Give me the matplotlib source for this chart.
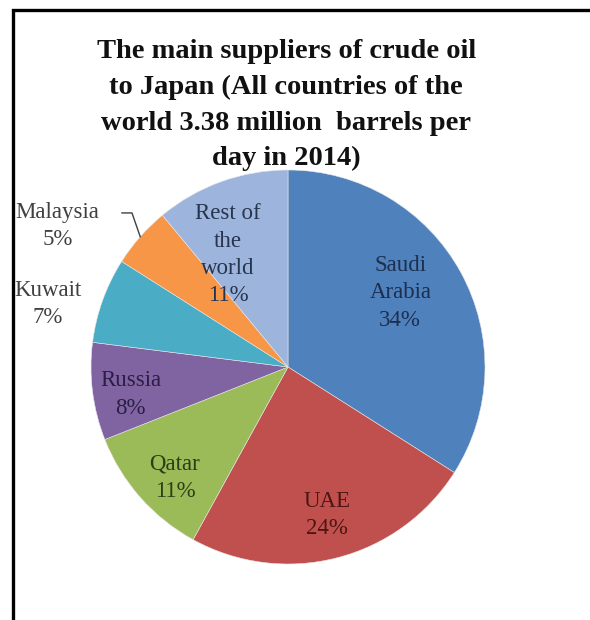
import matplotlib.pyplot as plt
import matplotlib.patches as mpatches
import numpy as np

countries = ["Saudi\nArabia", "UAE", "Qatar", "Russia", "Kuwait", "Malaysia", "Rest of\nthe\nworld"]
shares = [34, 24, 11, 8, 7, 5, 11]

colors = ["#4F81BD", "#C0504D", "#9BBB59", "#8064A2", "#4BACC6", "#F79646", "#9DB5DC"]
label_colors = ["#1C2F4F", "#4E1513", "#2A3F14", "#2B1E45", "#404040", "#404040", "#27344E"]
# label centres in pie units (radius = 1)
label_pos = [(0.57, 0.376), (0.198, -0.75), (-0.574, -0.563), (-0.80, -0.14),
             (-1.22, 0.32), (-1.17, 0.716), (-0.305, 0.57)]

plt.rcParams['font.family'] = ['Liberation Serif', 'DejaVu Serif']

fig = plt.figure(figsize=(5.9, 6.2), dpi=100)
ax = fig.add_axes([0, 0, 1, 1])

wedges, _ = ax.pie(shares, colors=colors, startangle=90, counterclock=False,
                   radius=1, wedgeprops=dict(linewidth=0.4, edgecolor="#e6e6e6"))

ax.set_xlim(-288 / 197, (590 - 288) / 197)
ax.set_ylim((367 - 620) / 197, 367 / 197)
ax.set_aspect('auto')
ax.axis('off')

for name, val, (x, y), c in zip(countries, shares, label_pos, label_colors):
    ax.text(x, y, f"{name}\n{val}%", ha='center', va='center', fontsize=16.5,
            color=c, linespacing=1.4)

# leader line for Malaysia
w = wedges[5]
mid = np.deg2rad((w.theta1 + w.theta2) / 2)
ax.plot([-0.843, -0.792, np.cos(mid)], [0.782, 0.782, np.sin(mid)],
        color="#404040", lw=1)

fig.text(0.485, 0.830,
         "The main suppliers of crude oil\nto Japan (All countries of the\n"
         "world 3.38 million  barrels per\nday in 2014)",
         ha='center', va='center', fontsize=20.5, fontweight='bold',
         linespacing=1.55, color="#111111")

frame = mpatches.Rectangle((13 / 590, -0.1), 1.2, 0.1 + 1 - 10 / 620,
                           transform=fig.transFigure, fill=False,
                           edgecolor='black', lw=2.4)
fig.patches.append(frame)

fig.savefig("out.png", dpi=100)
